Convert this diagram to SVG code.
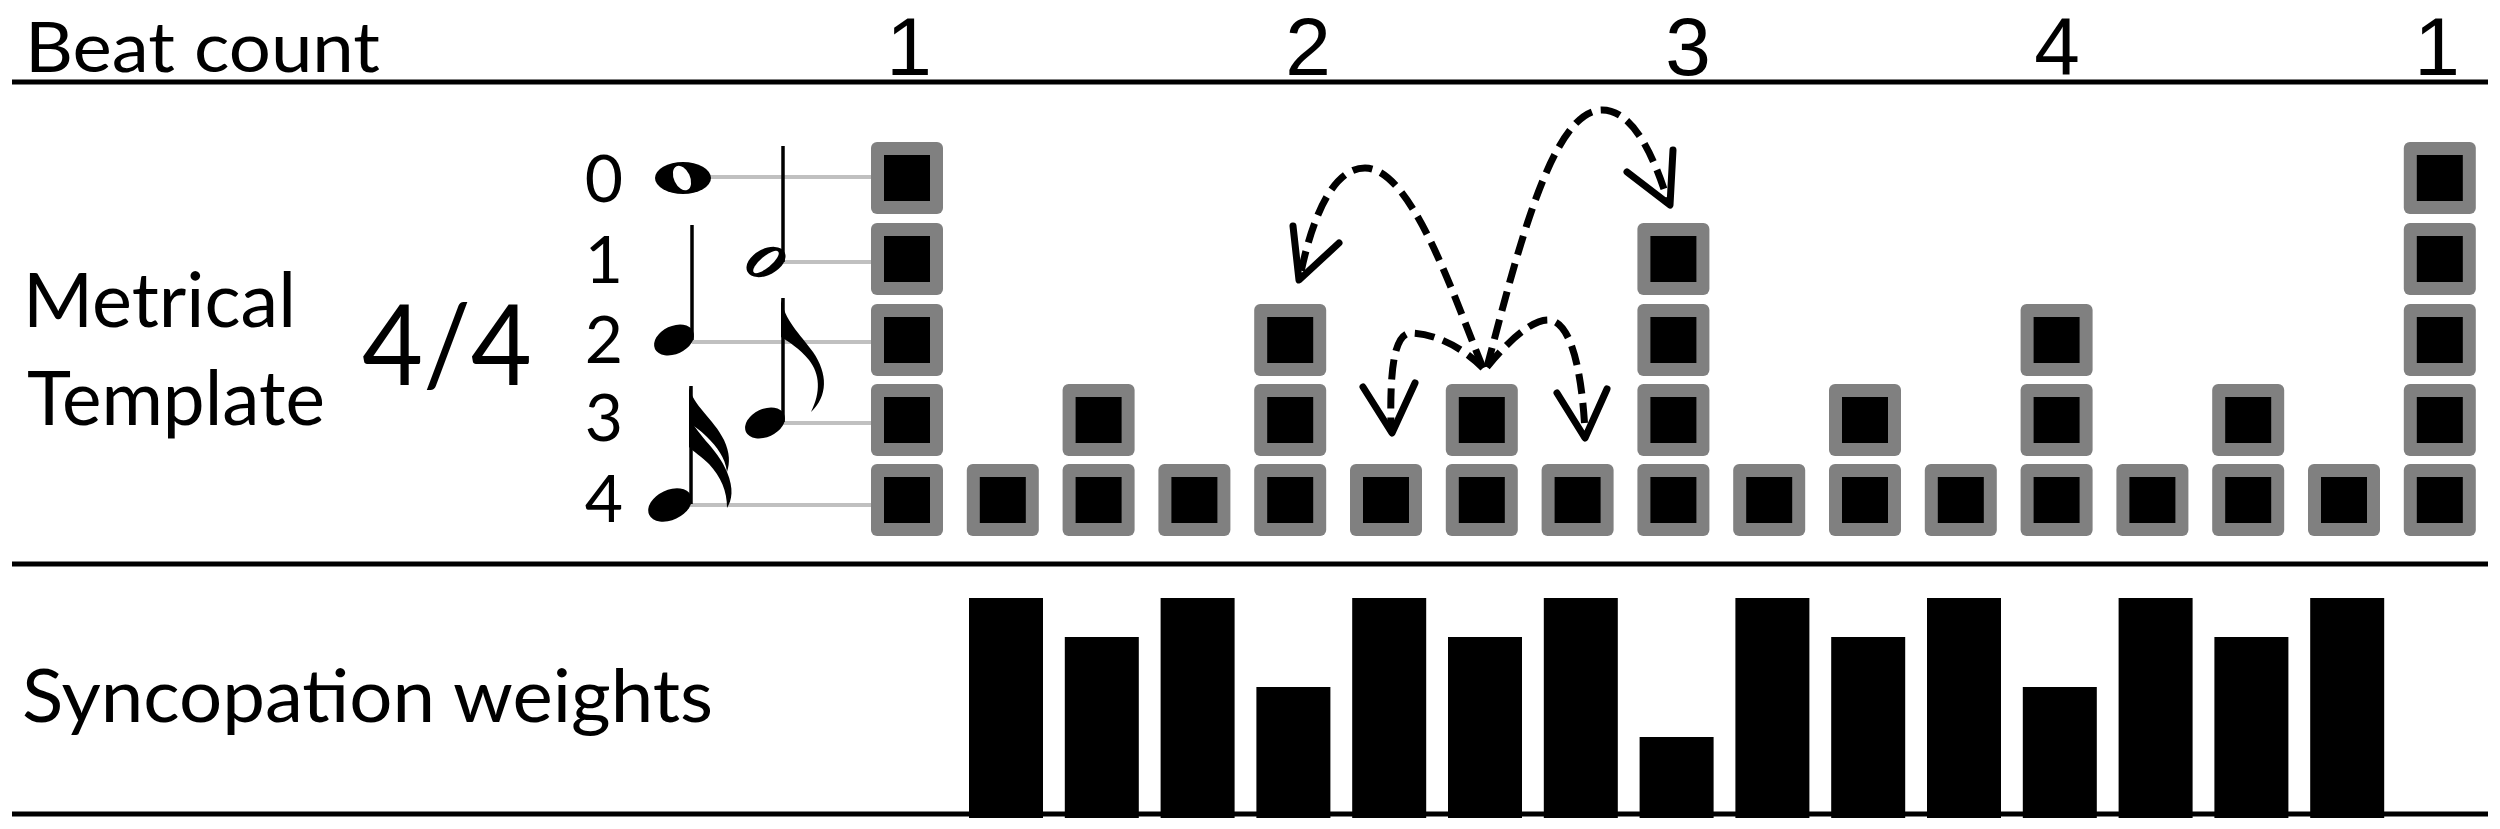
<svg xmlns="http://www.w3.org/2000/svg" xmlns:xlink="http://www.w3.org/1999/xlink" width="2500" height="829" viewBox="0 0 2500 829">
  <style>
    .txt { font-family: Lato, "Open Sans", "Liberation Sans", sans-serif; fill: #000; }
    .num { font-family: "Liberation Sans", Arial, sans-serif; fill: #000; }
    .rule { stroke: #000; stroke-width: 5; }
    .guide { stroke: #c0c0c0; stroke-width: 4; }
    .bar { fill: #000; }
    .dash { fill: none; stroke: #000; stroke-width: 7; stroke-dasharray: 20 9; }
    .head { fill: none; stroke: #000; stroke-width: 7; stroke-linecap: round; stroke-linejoin: round; }
    .stem { stroke: #000; stroke-width: 3.5; }
  </style>
  <defs>
    <g id="sq">
      <rect width="72" height="72" rx="6" fill="#808080"/>
      <rect x="13" y="13" width="46" height="46" fill="#000"/>
    </g>
  </defs>
  <rect width="2500" height="829" fill="#fff"/>

  <g id="rules">
    <line class="rule" x1="12" y1="82" x2="2488" y2="82"/>
    <line class="rule" x1="12" y1="564" x2="2488" y2="564"/>
    <line class="rule" x1="12" y1="814" x2="2488" y2="814"/>
  </g>

  <g id="beat-count">
    <text class="txt" x="25" y="72" font-size="70" textLength="355" lengthAdjust="spacingAndGlyphs">Beat count</text>
    <g font-size="82" text-anchor="middle">
      <text class="num" x="909" y="75">1</text>
      <text class="num" x="1308" y="75">2</text>
      <text class="num" x="1688" y="75">3</text>
      <text class="num" x="2057" y="75">4</text>
      <text class="num" x="2437" y="75">1</text>
    </g>
  </g>

  <g id="template-label">
    <text class="txt" x="23" y="327" font-size="75" textLength="273" lengthAdjust="spacingAndGlyphs">Metrical</text>
    <text class="txt" x="27" y="425" font-size="75" textLength="298" lengthAdjust="spacingAndGlyphs">Template</text>
    <text class="txt" x="362" y="385" font-size="112" textLength="170" lengthAdjust="spacingAndGlyphs">4/4</text>
  </g>

  <g id="level-labels" font-size="66" text-anchor="middle">
    <text class="txt" x="604" y="202">0</text>
    <text class="txt" x="604" y="283">1</text>
    <text class="txt" x="604" y="363">2</text>
    <text class="txt" x="604" y="441">3</text>
    <text class="txt" x="604" y="522">4</text>
  </g>

  <g id="guides">
    <line class="guide" x1="710" y1="177" x2="871" y2="177"/>
    <line class="guide" x1="783" y1="262" x2="871" y2="262"/>
    <line class="guide" x1="692" y1="342" x2="871" y2="342"/>
    <line class="guide" x1="783" y1="423" x2="871" y2="423"/>
    <line class="guide" x1="690" y1="505" x2="871" y2="505"/>
  </g>

  <g id="notes">
    <g id="note-whole">
      <ellipse cx="683" cy="178" rx="28" ry="16" fill="#000"/>
      <ellipse cx="682" cy="178" rx="8" ry="13" transform="rotate(-25 682 178)" fill="#fff"/>
    </g>
    <g id="note-half">
      <line class="stem" x1="783" y1="146" x2="783" y2="262"/>
      <ellipse cx="766" cy="262" rx="21" ry="13" transform="rotate(-28 766 262)" fill="#000"/>
      <ellipse cx="766" cy="262" rx="16" ry="5.5" transform="rotate(-40 766 262)" fill="#fff"/>
    </g>
    <g id="note-quarter">
      <line class="stem" x1="692" y1="225" x2="692" y2="340"/>
      <ellipse cx="674" cy="340" rx="21" ry="14" transform="rotate(-25 674 340)" fill="#000"/>
    </g>
    <g id="note-eighth">
      <line class="stem" x1="783" y1="298" x2="783" y2="422"/>
      <ellipse cx="765" cy="423" rx="21" ry="14" transform="rotate(-25 765 423)" fill="#000"/>
      <path d="M781,298 C784,320 800,334 813,352 C828,374 828,396 811,412 C821,392 820,374 809,360 C799,348 789,342 781,337 Z" fill="#000"/>
    </g>
    <g id="note-sixteenth">
      <line class="stem" x1="691" y1="386" x2="691" y2="504"/>
      <ellipse cx="670" cy="505" rx="23" ry="15" transform="rotate(-25 670 505)" fill="#000"/>
      <path d="M689,386 C692,405 714,419 724,440 C730,453 730,463 727,472 C725,457 717,447 707,437 C699,429 693,426 689,421 Z" fill="#000"/>
      <path d="M689,413 C693,433 717,447 727,472 C734,489 732,500 727,508 C727,491 721,477 709,464 C701,456 694,452 689,447 Z" fill="#000"/>
    </g>
  </g>

  <g id="template">
    <g id="col-0"><use xlink:href="#sq" x="871" y="142"/><use xlink:href="#sq" x="871" y="223"/><use xlink:href="#sq" x="871" y="304"/><use xlink:href="#sq" x="871" y="384"/><use xlink:href="#sq" x="871" y="464"/></g>
    <g id="col-1"><use xlink:href="#sq" x="966.8" y="464"/></g>
    <g id="col-2"><use xlink:href="#sq" x="1062.6" y="384"/><use xlink:href="#sq" x="1062.6" y="464"/></g>
    <g id="col-3"><use xlink:href="#sq" x="1158.4" y="464"/></g>
    <g id="col-4"><use xlink:href="#sq" x="1254.2" y="304"/><use xlink:href="#sq" x="1254.2" y="384"/><use xlink:href="#sq" x="1254.2" y="464"/></g>
    <g id="col-5"><use xlink:href="#sq" x="1350" y="464"/></g>
    <g id="col-6"><use xlink:href="#sq" x="1445.8" y="384"/><use xlink:href="#sq" x="1445.8" y="464"/></g>
    <g id="col-7"><use xlink:href="#sq" x="1541.6" y="464"/></g>
    <g id="col-8"><use xlink:href="#sq" x="1637.4" y="223"/><use xlink:href="#sq" x="1637.4" y="304"/><use xlink:href="#sq" x="1637.4" y="384"/><use xlink:href="#sq" x="1637.4" y="464"/></g>
    <g id="col-9"><use xlink:href="#sq" x="1733.2" y="464"/></g>
    <g id="col-10"><use xlink:href="#sq" x="1829" y="384"/><use xlink:href="#sq" x="1829" y="464"/></g>
    <g id="col-11"><use xlink:href="#sq" x="1924.8" y="464"/></g>
    <g id="col-12"><use xlink:href="#sq" x="2020.6" y="304"/><use xlink:href="#sq" x="2020.6" y="384"/><use xlink:href="#sq" x="2020.6" y="464"/></g>
    <g id="col-13"><use xlink:href="#sq" x="2116.4" y="464"/></g>
    <g id="col-14"><use xlink:href="#sq" x="2212.2" y="384"/><use xlink:href="#sq" x="2212.2" y="464"/></g>
    <g id="col-15"><use xlink:href="#sq" x="2308" y="464"/></g>
    <g id="col-16"><use xlink:href="#sq" x="2403.8" y="142"/><use xlink:href="#sq" x="2403.8" y="223"/><use xlink:href="#sq" x="2403.8" y="304"/><use xlink:href="#sq" x="2403.8" y="384"/><use xlink:href="#sq" x="2403.8" y="464"/></g>
  </g>

  <g id="connectors">
    <path class="dash" d="M1483,368 C1455,300 1412,168 1365,168 C1332,168 1312,220 1301,272"/>
    <path class="head" d="M1293,226 L1299,280 L1339,243"/>
    <path class="dash" d="M1487,367 C1518,250 1552,110 1602,110 C1634,110 1654,158 1667,198"/>
    <path class="head" d="M1627,172 L1670,205 L1673,150"/>
    <path class="dash" d="M1483,368 C1460,345 1432,333 1410,333 C1392,335 1390,380 1391,428"/>
    <path class="head" d="M1363,387 L1392,433 L1415,383"/>
    <path class="dash" d="M1487,367 C1505,345 1530,320 1548,320 C1575,320 1583,390 1585,432"/>
    <path class="head" d="M1557,393 L1585,438 L1607,389"/>
  </g>

  <g id="weights">
    <text class="txt" x="22" y="722" font-size="73" textLength="691" lengthAdjust="spacingAndGlyphs">Syncopation weights</text>
    <rect class="bar" x="969" y="598" width="74" height="220"/>
    <rect class="bar" x="1064.8" y="637" width="74" height="181"/>
    <rect class="bar" x="1160.6" y="598" width="74" height="220"/>
    <rect class="bar" x="1256.4" y="687" width="74" height="131"/>
    <rect class="bar" x="1352.2" y="598" width="74" height="220"/>
    <rect class="bar" x="1448" y="637" width="74" height="181"/>
    <rect class="bar" x="1543.8" y="598" width="74" height="220"/>
    <rect class="bar" x="1639.6" y="737" width="74" height="81"/>
    <rect class="bar" x="1735.4" y="598" width="74" height="220"/>
    <rect class="bar" x="1831.2" y="637" width="74" height="181"/>
    <rect class="bar" x="1927" y="598" width="74" height="220"/>
    <rect class="bar" x="2022.8" y="687" width="74" height="131"/>
    <rect class="bar" x="2118.6" y="598" width="74" height="220"/>
    <rect class="bar" x="2214.4" y="637" width="74" height="181"/>
    <rect class="bar" x="2310.2" y="598" width="74" height="220"/>
  </g>
</svg>
